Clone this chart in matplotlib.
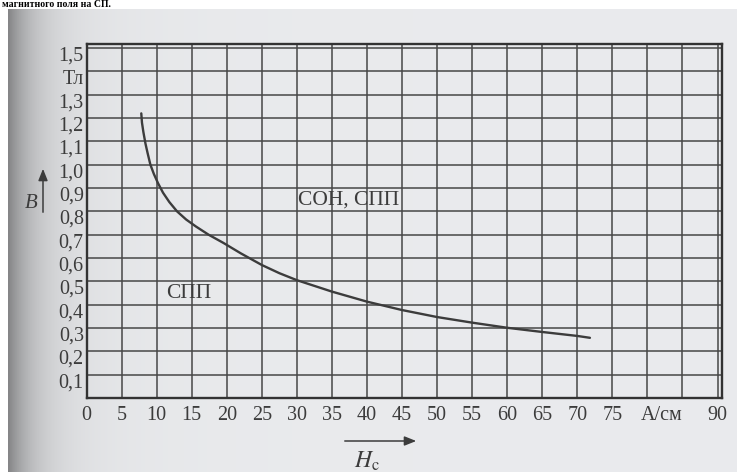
#!/usr/bin/env python3
# coding: utf-8
"""
B(Hc) curve for СОН / СПП, redrawn from a scanned book figure.
"""
import numpy as np
import matplotlib
matplotlib.use("Agg")
import matplotlib.pyplot as plt
from matplotlib.patches import FancyArrowPatch
from matplotlib.transforms import ScaledTranslation

# ============================================================
# DATA
# ============================================================
H_c = [7.8, 7.9, 8.1, 8.4, 8.7, 9.1, 9.6, 10.2, 10.9, 11.8, 12.9, 14.2,
       15.6, 17.4, 19.5, 22.0, 25.0, 27.5, 30.0, 35.0, 40.0, 45.0, 50.0,
       55.0, 60.0, 65.0, 70.0, 71.8]
B = [1.22, 1.18, 1.14, 1.09, 1.05, 1.00, 0.96, 0.92, 0.88, 0.84, 0.80, 0.765,
     0.735, 0.70, 0.665, 0.62, 0.57, 0.535, 0.505, 0.456, 0.413, 0.377, 0.347,
     0.323, 0.301, 0.283, 0.266, 0.258]

x_ticks = list(range(0, 95, 5))
x_labels = ["0", "5", "10", "15", "20", "25", "30", "35", "40", "45", "50",
            "55", "60", "65", "70", "75", "", "", "90"]
y_ticks = [round(0.1 * i, 1) for i in range(1, 16)]
y_labels = ["0,1", "0,2", "0,3", "0,4", "0,5", "0,6", "0,7", "0,8", "0,9",
            "1,0", "1,1", "1,2", "1,3", "Тл", "1,5"]

GRID = "#474747"
INK = "#3c3c3c"
SERIF = ["Liberation Serif", "DejaVu Serif"]
plt.rcParams["font.family"] = SERIF
plt.rcParams["mathtext.fontset"] = "stix"

W, H = 737, 472
fig = plt.figure(figsize=(W / 100, H / 100), dpi=100, facecolor="white")

# --- scanned page background (grey shadow on the left edge) ---
bg = fig.add_axes([8 / W, 0, 1 - 8 / W, (H - 9) / H])
bg.set_axis_off()
xs = np.linspace(0, 1, 400)
shade = 0.93 - 0.34 * np.exp(-xs / 0.035) - 0.06 * np.exp(-xs / 0.12)
rgb = np.stack([shade * 0.985, shade * 0.99, shade * 1.0], axis=-1)
bg.imshow(rgb[None, :, :], aspect="auto", extent=[0, 1, 0, 1])

fig.text(2 / W, 1.0, "магнитного поля на СП.", ha="left", va="top",
         fontsize=7, fontweight="bold", color="black")

# ============================================================
# MAIN CHART
# ============================================================
x0, y0 = 86.6, 398.0
px_x, px_y = 7.01, 233.3
xmax, ymax = 90.6, 1.517
ax = fig.add_axes([x0 / W, (H - y0) / H, xmax * px_x / W, ymax * px_y / H])
ax.set_facecolor("none")
ax.set_xlim(0, xmax)
ax.set_ylim(0, ymax)

ax.set_xticks(x_ticks)
ax.set_xticklabels(x_labels)
ax.set_yticks(y_ticks)
ax.set_yticklabels(y_labels)
ax.tick_params(length=0, labelsize=14.5, labelcolor=INK)
ax.tick_params(axis="x", pad=6)
ax.tick_params(axis="y", pad=2)
for lab in ax.get_yticklabels():
    lab.set_transform(lab.get_transform() + ScaledTranslation(0, -4 / 72, fig.dpi_scale_trans))

ax.grid(True, color=GRID, linewidth=1.1)
for s in ax.spines.values():
    s.set_color("#333333")
    s.set_linewidth(1.7)

ax.plot(H_c, B, color=INK, linewidth=1.7, solid_capstyle="round",
        solid_joinstyle="round")

ax.text(37.3, 0.85, "СОН, СПП", fontsize=15.5, color=INK, ha="center", va="center")
ax.text(14.6, 0.446, "СПП", fontsize=15.5, color=INK, ha="center", va="center")
ax.text(82, 0, "А/см", fontsize=14.5, color=INK, ha="center", va="top",
        transform=ax.get_xaxis_transform() + ScaledTranslation(0, -6 / 72, fig.dpi_scale_trans))

# --- axis names with arrows ---
fig.add_artist(FancyArrowPatch(
    (43 / W, (H - 215) / H), (43 / W, (H - 166) / H), transform=fig.transFigure,
    arrowstyle="-|>,head_length=7,head_width=2.8", color=INK, linewidth=1.1))
fig.text(31 / W, (H - 203) / H, "B", fontsize=15, style="italic", color=INK,
         ha="center", va="center")

fig.add_artist(FancyArrowPatch(
    (342 / W, (H - 441) / H), (419 / W, (H - 441) / H), transform=fig.transFigure,
    arrowstyle="-|>,head_length=7,head_width=2.8", color=INK, linewidth=1.1))
fig.text(367 / W, (H - 461) / H, r"$H_{\mathrm{c}}$", fontsize=17, color=INK,
         ha="center", va="center")

fig.savefig("out.png", dpi=100, facecolor="white")
